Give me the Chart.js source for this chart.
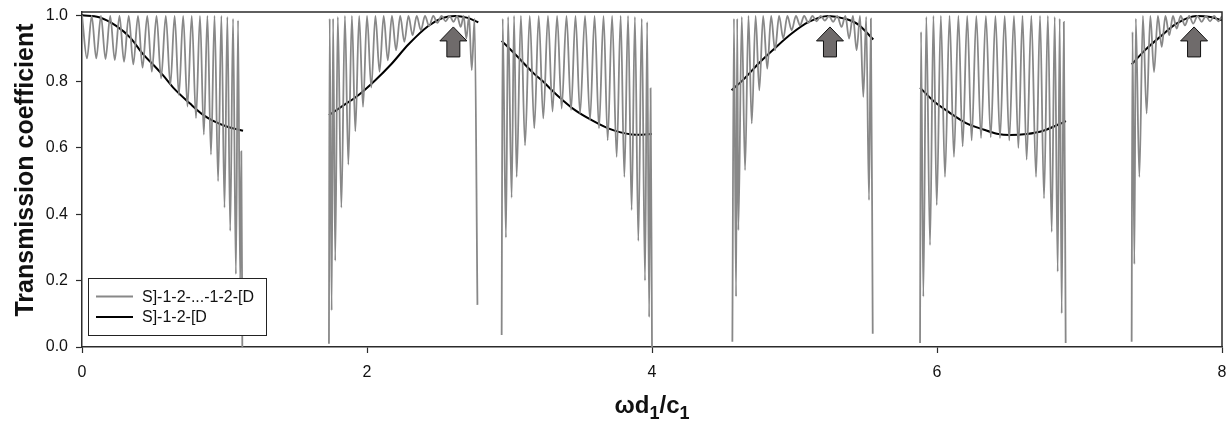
<!DOCTYPE html>
<html>
<head>
<meta charset="utf-8">
<script src="https://cdn.jsdelivr.net/npm/chart.js@4.4.1/dist/chart.umd.min.js"></script>
<style>
  html, body { margin: 0; padding: 0; background: #fff; }
  #wrap { width: 1228px; height: 423px; position: relative; }
</style>
</head>
<body>
<div id="wrap"><canvas id="chart" width="1228" height="423"></canvas></div>
<script>
// tick labels
const xTicks = [0, 2, 4, 6, 8];
const yTicks = [0, 0.2, 0.4, 0.6, 0.8, 1.0];

// S]-1-2-...-1-2-[D  (grey, periodic stack) - peaks and troughs, band by band
const grayBand1 = [[0,1.0],[0.035,0.87],[0.068,0.998],[0.10,0.87],[0.133,0.998],[0.165,0.868],[0.198,0.998],[0.23,0.865],[0.263,0.998],[0.295,0.86],[0.328,0.998],[0.36,0.852],[0.393,0.998],[0.425,0.842],[0.458,0.998],[0.49,0.83],[0.523,0.998],[0.555,0.81],[0.588,0.998],[0.62,0.79],[0.65,0.998],[0.68,0.76],[0.71,0.998],[0.74,0.725],[0.77,0.998],[0.80,0.69],[0.828,0.998],[0.855,0.64],[0.88,0.998],[0.905,0.58],[0.93,0.998],[0.955,0.50],[0.978,0.998],[1.0,0.42],[1.02,0.995],[1.04,0.35],[1.06,0.99],[1.08,0.22],[1.095,0.985],[1.11,0.19],[1.118,0.59],[1.125,0.0]];
const grayBand2 = [[1.733,0.01],[1.738,0.99],[1.752,0.11],[1.762,0.99],[1.777,0.26],[1.795,0.995],[1.82,0.42],[1.845,0.998],[1.869,0.55],[1.894,0.998],[1.918,0.65],[1.945,0.998],[1.972,0.724],[2.0,0.998],[2.03,0.782],[2.059,0.998],[2.088,0.83],[2.117,0.998],[2.146,0.864],[2.175,0.998],[2.204,0.895],[2.233,0.998],[2.262,0.92],[2.291,0.998],[2.32,0.94],[2.349,0.998],[2.378,0.955],[2.407,0.998],[2.436,0.968],[2.465,0.998],[2.494,0.977],[2.523,0.998],[2.552,0.982],[2.58,0.998],[2.607,0.98],[2.632,0.998],[2.658,0.965],[2.678,0.998],[2.697,0.93],[2.716,0.998],[2.735,0.835],[2.755,0.99],[2.775,0.127]];
const grayBand3 = [[2.945,0.036],[2.952,0.99],[2.975,0.33],[2.99,0.995],[3.015,0.45],[3.032,0.998],[3.05,0.513],[3.08,0.998],[3.109,0.608],[3.142,0.998],[3.174,0.659],[3.205,0.998],[3.237,0.689],[3.27,0.998],[3.302,0.71],[3.334,0.998],[3.366,0.719],[3.4,0.998],[3.432,0.714],[3.463,0.998],[3.495,0.704],[3.53,0.998],[3.565,0.684],[3.597,0.998],[3.628,0.659],[3.66,0.998],[3.689,0.623],[3.72,0.998],[3.752,0.573],[3.78,0.998],[3.806,0.513],[3.832,0.998],[3.857,0.413],[3.88,0.995],[3.904,0.32],[3.928,0.99],[3.951,0.20],[3.966,0.98],[3.98,0.09],[3.99,0.78],[4.0,0.0]];
const grayBand4 = [[4.564,0.016],[4.575,0.99],[4.59,0.152],[4.598,0.99],[4.606,0.352],[4.63,0.995],[4.653,0.533],[4.677,0.998],[4.70,0.674],[4.727,0.998],[4.753,0.774],[4.78,0.998],[4.809,0.839],[4.836,0.998],[4.863,0.895],[4.892,0.998],[4.921,0.93],[4.95,0.998],[4.98,0.955],[5.01,0.998],[5.039,0.97],[5.068,0.998],[5.097,0.978],[5.126,0.998],[5.155,0.982],[5.184,0.998],[5.213,0.984],[5.242,0.998],[5.271,0.98],[5.30,0.998],[5.33,0.965],[5.357,0.998],[5.383,0.93],[5.41,0.998],[5.436,0.895],[5.46,0.998],[5.483,0.754],[5.503,0.995],[5.523,0.443],[5.536,0.99],[5.549,0.04]];
const grayBand5 = [[5.881,0.012],[5.888,0.95],[5.904,0.152],[5.925,0.995],[5.951,0.307],[5.975,0.998],[5.998,0.428],[6.027,0.998],[6.056,0.513],[6.088,0.998],[6.119,0.573],[6.15,0.998],[6.18,0.605],[6.212,0.998],[6.243,0.622],[6.276,0.998],[6.309,0.63],[6.343,0.998],[6.377,0.632],[6.41,0.998],[6.442,0.63],[6.475,0.998],[6.507,0.622],[6.54,0.998],[6.571,0.6],[6.6,0.998],[6.629,0.565],[6.662,0.998],[6.695,0.513],[6.723,0.998],[6.751,0.448],[6.778,0.998],[6.805,0.347],[6.826,0.995],[6.847,0.227],[6.861,0.99],[6.875,0.101],[6.89,0.98],[6.903,0.012]];
const grayBand6 = [[7.366,0.016],[7.372,0.95],[7.385,0.25],[7.395,0.99],[7.42,0.513],[7.445,0.998],[7.471,0.704],[7.497,0.998],[7.523,0.829],[7.55,0.998],[7.577,0.905],[7.603,0.998],[7.63,0.94],[7.656,0.998],[7.682,0.96],[7.71,0.998],[7.74,0.97],[7.77,0.998],[7.798,0.975],[7.828,0.998],[7.857,0.98],[7.887,0.998],[7.916,0.982],[7.945,0.998],[7.974,0.982],[8.0,0.998]];

// S]-1-2-[D  (black, single cell)
const blackBand1 = [[0,1.0],[0.12,0.994],[0.24,0.968],[0.34,0.932],[0.43,0.882],[0.52,0.842],[0.571,0.818],[0.64,0.782],[0.758,0.734],[0.85,0.70],[0.921,0.682],[1.02,0.664],[1.13,0.652]];
const blackBand2 = [[1.733,0.699],[1.84,0.73],[1.939,0.759],[2.06,0.805],[2.173,0.854],[2.29,0.912],[2.43,0.968],[2.53,0.992],[2.62,0.998],[2.70,0.993],[2.781,0.979]];
const blackBand3 = [[2.945,0.923],[3.05,0.878],[3.17,0.825],[3.226,0.804],[3.34,0.757],[3.46,0.714],[3.58,0.683],[3.693,0.659],[3.78,0.647],[3.857,0.641],[3.93,0.64],[4.0,0.642]];
const blackBand4 = [[4.559,0.774],[4.65,0.81],[4.746,0.854],[4.86,0.90],[4.98,0.945],[5.1,0.98],[5.237,0.998],[5.35,0.99],[5.448,0.972],[5.553,0.927]];
const blackBand5 = [[5.881,0.782],[5.98,0.74],[6.09,0.706],[6.2,0.676],[6.33,0.655],[6.42,0.643],[6.512,0.639],[6.63,0.642],[6.746,0.652],[6.905,0.681]];
const blackBand6 = [[7.366,0.852],[7.46,0.895],[7.565,0.935],[7.68,0.975],[7.822,0.998],[7.92,0.995],[8.0,0.985]];

// upward arrows marking the single-cell maxima
const arrowX = [2.606, 5.249, 7.804];

const seriesLabels = ['S]-1-2-...-1-2-[D', 'S]-1-2-[D'];

const FONT = '"Liberation Sans", Arial, sans-serif';
const AXIS = '#2b2b2b';

// join the bands into one series, with a null point between bands so the line breaks
function joinBands(bands) {
    const out = [];
    bands.forEach((band, i) => {
        if (i > 0) out.push({ x: band[0][0] - 0.001, y: null });
        band.forEach(p => out.push({ x: p[0], y: p[1] }));
    });
    return out;
}

// keep the plot box where it is in the picture: no extra room for label overhang
function noOverhang(s) {
    s.paddingTop = 0;
    s.paddingBottom = 0;
    s.paddingLeft = 0;
    s.paddingRight = 0;
}

const overlay = {
    id: 'overlay',
    afterDatasetsDraw(chart) {
        const { ctx, chartArea: a, scales: { x, y } } = chart;
        ctx.save();

        // top and right frame
        ctx.strokeStyle = AXIS;
        ctx.lineWidth = 1.5;
        ctx.beginPath();
        ctx.moveTo(a.left, a.top);
        ctx.lineTo(a.right, a.top);
        ctx.lineTo(a.right, a.bottom);
        ctx.stroke();

        // arrows
        arrowX.forEach(v => {
            const cx = x.getPixelForValue(v);
            const tip = y.getPixelForValue(0.965);
            const headH = 14, bodyH = 16, headW = 13.5, bodyW = 6.5;
            ctx.beginPath();
            ctx.moveTo(cx, tip);
            ctx.lineTo(cx + headW, tip + headH);
            ctx.lineTo(cx + bodyW, tip + headH);
            ctx.lineTo(cx + bodyW, tip + headH + bodyH);
            ctx.lineTo(cx - bodyW, tip + headH + bodyH);
            ctx.lineTo(cx - bodyW, tip + headH);
            ctx.lineTo(cx - headW, tip + headH);
            ctx.closePath();
            ctx.fillStyle = '#6f6b6b';
            ctx.fill();
            ctx.lineWidth = 1;
            ctx.strokeStyle = '#111';
            ctx.stroke();
        });

        // legend box
        const lx = a.left + 6, ly = a.bottom - 69, lw = 178, lh = 57;
        ctx.fillStyle = '#fff';
        ctx.fillRect(lx, ly, lw, lh);
        ctx.strokeStyle = '#222';
        ctx.lineWidth = 1;
        ctx.strokeRect(lx + 0.5, ly + 0.5, lw, lh);
        chart.data.datasets.forEach((ds, i) => {
            const rowY = ly + 18.5 + i * 20.5;
            ctx.strokeStyle = ds.borderColor;
            ctx.lineWidth = ds.borderWidth;
            ctx.beginPath();
            ctx.moveTo(lx + 8, rowY);
            ctx.lineTo(lx + 45, rowY);
            ctx.stroke();
            ctx.fillStyle = '#111';
            ctx.font = '16px ' + FONT;
            ctx.textBaseline = 'middle';
            ctx.textAlign = 'left';
            ctx.fillText(ds.label, lx + 54, rowY + 1);
        });

        // y title
        ctx.save();
        ctx.translate(33, 170);
        ctx.rotate(-Math.PI / 2);
        ctx.font = 'bold 25px ' + FONT;
        ctx.fillStyle = '#111';
        ctx.textAlign = 'center';
        ctx.textBaseline = 'alphabetic';
        ctx.fillText('Transmission coefficient', 0, 0);
        ctx.restore();

        // x title with subscripts
        const parts = [['ωd', 24, 0], ['1', 18, 6], ['/c', 24, 0], ['1', 18, 6]];
        let total = 0;
        parts.forEach(p => { ctx.font = 'bold ' + p[1] + 'px ' + FONT; total += ctx.measureText(p[0]).width; });
        let tx = (a.left + a.right) / 2 - total / 2;
        const base = 413;
        ctx.fillStyle = '#111';
        ctx.textAlign = 'left';
        ctx.textBaseline = 'alphabetic';
        parts.forEach(p => {
            ctx.font = 'bold ' + p[1] + 'px ' + FONT;
            ctx.fillText(p[0], tx, base + p[2]);
            tx += ctx.measureText(p[0]).width;
        });

        ctx.restore();
    }
};

const ctx = document.getElementById('chart').getContext('2d');
new Chart(ctx, {
    type: 'line',
    data: {
        datasets: [{
            label: seriesLabels[0],
            data: joinBands([grayBand1, grayBand2, grayBand3, grayBand4, grayBand5, grayBand6]),
            borderColor: '#888888',
            borderWidth: 1.8,
            pointRadius: 0,
            cubicInterpolationMode: 'monotone',
            spanGaps: false
        }, {
            label: seriesLabels[1],
            data: joinBands([blackBand1, blackBand2, blackBand3, blackBand4, blackBand5, blackBand6]),
            borderColor: '#000',
            borderWidth: 2,
            pointRadius: 0,
            cubicInterpolationMode: 'monotone',
            spanGaps: false
        }]
    },
    options: {
        responsive: false,
        animation: false,
        layout: { padding: { top: 12, right: 6, left: 0, bottom: 0 } },
        plugins: { legend: { display: false }, tooltip: { enabled: false } },
        scales: {
            x: {
                type: 'linear',
                min: 0,
                max: 8,
                afterFit: s => { s.height = 76; noOverhang(s); },
                afterBuildTicks: s => { s.ticks = xTicks.map(v => ({ value: v })); },
                ticks: {
                    padding: 10,
                    color: '#111',
                    font: { family: FONT, size: 16 },
                    maxRotation: 0,
                    callback: v => String(v)
                },
                grid: { drawOnChartArea: false, drawTicks: true, tickLength: 6, tickColor: AXIS, tickWidth: 1.2 },
                border: { color: AXIS, width: 1.5 }
            },
            y: {
                type: 'linear',
                min: 0,
                max: 1.01,
                afterFit: s => { s.width = 82; noOverhang(s); },
                afterBuildTicks: s => { s.ticks = yTicks.map(v => ({ value: v })); },
                ticks: {
                    padding: 8,
                    color: '#111',
                    font: { family: FONT, size: 16 },
                    callback: v => v.toFixed(1)
                },
                grid: { drawOnChartArea: false, drawTicks: true, tickLength: 6, tickColor: AXIS, tickWidth: 1.2 },
                border: { color: AXIS, width: 1.5 }
            }
        }
    },
    plugins: [overlay]
});
</script>
</body>
</html>
